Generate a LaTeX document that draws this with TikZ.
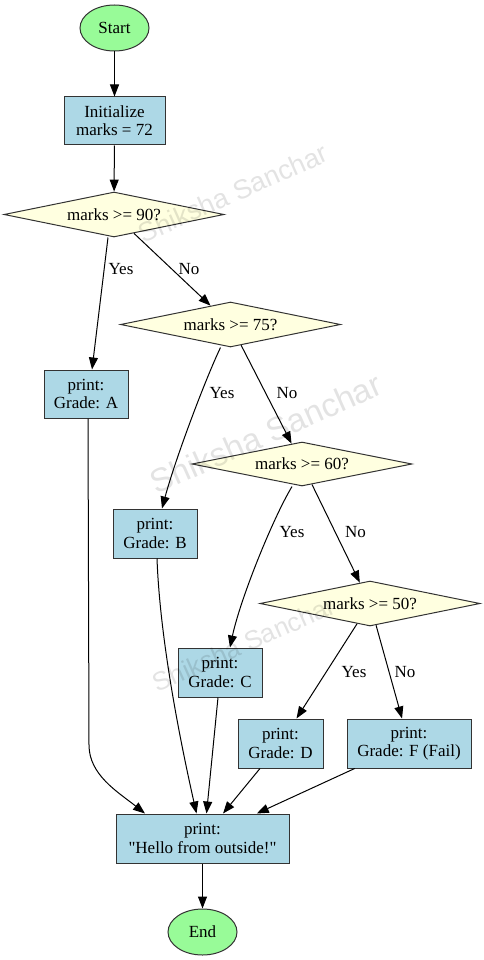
\documentclass[tikz,border=0pt]{standalone}
\usepackage{fontspec}
\setmainfont{Liberation Serif}[Ligatures=TeXOff]
\newfontfamily\wmfont{Liberation Sans}
\usetikzlibrary{shapes.geometric,arrows.meta}
\definecolor{palegreen}{HTML}{98FB98}
\definecolor{lightblue}{HTML}{ADD8E6}
\definecolor{lightyel}{HTML}{FFFFE0}
\begin{document}
\begin{tikzpicture}[x=1pt,y=-1pt,
  base/.style={draw=black!80, line width=1pt, font=\fontsize{17}{18.3}\selectfont, align=center, inner sep=0pt},
  term/.style={base, ellipse, fill=palegreen, minimum width=69pt, minimum height=46pt},
  proc/.style={base, rectangle, fill=lightblue, minimum height=49pt},
  dec/.style={base, diamond, aspect=4.9, fill=lightyel, minimum width=220pt, minimum height=45pt},
  arr/.style={-{Triangle[length=12pt,width=9pt]}, line width=1pt, black},
  lbl/.style={font=\fontsize{17}{18}\selectfont, inner sep=0pt},
  wm/.style={text=black, text opacity=0.11, rotate=24, inner sep=0pt}
]
\useasboundingbox (0,0) rectangle (484,960);
\fill[white] (0,0) rectangle (484,960);

\node[term] (start) at (114.5,28) {Start};
\node[proc, minimum width=101pt, minimum height=48pt] (init) at (114.5,121) {Initialize\\marks = 72};
\node[dec] (d90) at (114,214.5) {marks >= 90?};
\node[dec] (d75) at (230.5,324.5) {marks >= 75?};
\node[proc, minimum width=84pt, minimum height=48pt] (ga) at (86,394) {print:\\Grade: A};
\node[dec, minimum height=44pt] (d60) at (302,464) {marks >= 60?};
\node[proc, minimum width=84pt] (gb) at (155,533.5) {print:\\Grade: B};
\node[dec] (d50) at (370,603.5) {marks >= 50?};
\node[proc, minimum width=84pt] (gc) at (220,672.5) {print:\\Grade: C};
\node[proc, minimum width=85pt] (gd) at (280.5,743.5) {print:\\Grade: D};
\node[proc, minimum width=124pt] (gf) at (409,743.5) {print:\\Grade: F (Fail)};
\node[proc, minimum width=173pt] (hello) at (202.5,838.5) {print:\\"Hello from outside!"};
\node[term] (end) at (202.5,932) {End};

\draw[arr] (start) -- (init);
\draw[arr] (init) -- (d90);
\draw[arr] ([xshift=-6pt]d90.south) -- ([xshift=6pt]ga.north);
\draw[arr] (d90) -- (d75);
\draw[arr] ([xshift=-10pt]d75.south) .. controls (205,380) and (175,460) .. ([xshift=7pt]gb.north);
\draw[arr] (d75) -- (d60);
\draw[arr] ([xshift=-10pt]d60.south) .. controls (272,520) and (240,600) .. ([xshift=10pt]gc.north);
\draw[arr] (d60) -- (d50);
\draw[arr] (d50) -- (gd);
\draw[arr] (d50) -- (gf);
\coordinate (abend) at (89,745);
\draw[arr] ([xshift=2pt]ga.south) -- (abend) .. controls (89,775) and (118,792) .. ([xshift=-57.5pt]hello.north);
\draw[arr] ([xshift=2pt]gb.south) .. controls (160,640) and (180,740) .. ([xshift=-6pt]hello.north);
\draw[arr] ([xshift=-2pt]gc.south) -- ([xshift=4pt]hello.north);
\draw[arr] (gd) -- (hello);
\draw[arr] (gf) -- (hello);
\draw[arr] (hello) -- (end);

\node[lbl] (l1) at (121,269) {Yes};
\node[lbl] (l2) at (189,269) {No};
\node[lbl] (l3) at (222,393.5) {Yes};
\node[lbl] (l4) at (287,393.5) {No};
\node[lbl] (l5) at (292,532) {Yes};
\node[lbl] (l6) at (355.5,532) {No};
\node[lbl] (l7) at (354,672.5) {Yes};
\node[lbl] (l8) at (405,672.5) {No};

\node[wm, font=\wmfont\fontsize{27}{27}\selectfont] (w1) at (233,193) {Shiksha Sanchar};
\node[wm, font=\wmfont\fontsize{33}{33}\selectfont] (w2) at (266,433) {Shiksha Sanchar};
\node[wm, font=\wmfont\fontsize{26}{26}\selectfont] (w3) at (244,644) {Shiksha Sanchar};
\end{tikzpicture}
\end{document}
